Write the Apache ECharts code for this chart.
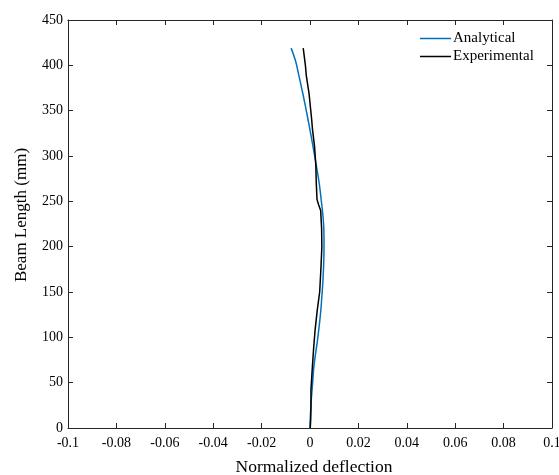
<!DOCTYPE html>
<html>
<head>
<meta charset="utf-8">
<script src="https://cdn.jsdelivr.net/npm/echarts@6/dist/echarts.min.js"></script>
<style>html,body{margin:0;padding:0;background:#fff;overflow:hidden;}#c{width:559px;height:475px;}</style>
</head>
<body>
<div id="c"></div>
<script>
// Beam length (mm) and normalized deflection values
const analyticalY = [0, 10, 20, 30, 40, 50, 65, 80, 95, 108, 125, 145, 165, 185, 205, 220, 235, 250, 268, 285, 302, 320, 337, 355, 373, 390, 405, 419];
const analyticalX = [0, 0.0001, 0.0003, 0.0005, 0.0008, 0.0011, 0.0015, 0.0022, 0.0030, 0.0036, 0.0043, 0.0049, 0.0054, 0.0057, 0.0058, 0.0057, 0.0053, 0.0047, 0.0039, 0.0029, 0.0018, 0.0006, -0.0006, -0.0019, -0.0033, -0.0047, -0.0060, -0.0078];
const experimentalY = [0, 10, 25, 42, 55, 68, 88, 108, 130, 150, 175, 200, 220, 240, 246, 252, 270, 290, 310, 330, 340, 369, 388, 400, 419];
const experimentalX = [0.0001, 0.0003, 0.0004, 0.0004, 0.0007, 0.0010, 0.0015, 0.0021, 0.0030, 0.0040, 0.0045, 0.0049, 0.0048, 0.0044, 0.0036, 0.0029, 0.0026, 0.0024, 0.0019, 0.0010, 0.0007, -0.0004, -0.0015, -0.0019, -0.0028];
const seriesNames = ['Analytical', 'Experimental'];
const xRange = [-0.1, 0.1, 0.02];
const yRange = [0, 450, 50];

const font = 'Liberation Serif, Times New Roman, serif';
const axisColor = '#262626';
const zip = (xs, ys) => xs.map((x, i) => [x, ys[i]]);
const fmt = v => String(parseFloat(Number(v).toFixed(4)));

const baseX = {
  type: 'value', min: xRange[0], max: xRange[1], interval: xRange[2],
  axisLine: { show: true, onZero: false, lineStyle: { color: axisColor, width: 1 } },
  axisTick: { show: true, inside: true, length: 5, lineStyle: { color: axisColor } },
  splitLine: { show: false }
};
const baseY = {
  type: 'value', min: yRange[0], max: yRange[1], interval: yRange[2],
  axisLine: { show: true, onZero: false, lineStyle: { color: axisColor, width: 1 } },
  axisTick: { show: true, inside: true, length: 5, lineStyle: { color: axisColor } },
  splitLine: { show: false }
};

const chart = echarts.init(document.getElementById('c'), null, { renderer: 'canvas' });
chart.setOption({
  animation: false,
  backgroundColor: '#fff',
  grid: { left: 68, right: 7, top: 20, bottom: 47, containLabel: false, outerBoundsMode: 'none' },
  legend: {
    orient: 'vertical', left: 420, top: 31, itemGap: 3, padding: 0,
    itemWidth: 31, itemHeight: 1.5,
    icon: 'rect',
    textStyle: { fontFamily: font, fontSize: 15, color: '#000', padding: [0, 0, 0, -3] },
    data: seriesNames
  },
  xAxis: [
    Object.assign({}, baseX, {
      position: 'bottom',
      name: 'Normalized deflection', nameLocation: 'middle', nameGap: 30,
      nameTextStyle: { fontFamily: font, fontSize: 17.5, color: '#000', padding: [0, 0, 0, 8] },
      axisLabel: { show: true, margin: 8, fontFamily: font, fontSize: 14, color: '#000', formatter: fmt }
    }),
    Object.assign({}, baseX, { position: 'top', axisLabel: { show: false } })
  ],
  yAxis: [
    Object.assign({}, baseY, {
      position: 'left',
      name: 'Beam Length (mm)', nameLocation: 'middle', nameGap: 38,
      nameTextStyle: { fontFamily: font, fontSize: 17, color: '#000', padding: [0, 0, 0, 18] },
      axisLabel: { show: true, margin: 5, fontFamily: font, fontSize: 14, color: '#000', formatter: fmt }
    }),
    Object.assign({}, baseY, { position: 'right', axisLabel: { show: false } })
  ],
  series: [
    {
      name: seriesNames[0], type: 'line', xAxisIndex: 0, yAxisIndex: 0,
      data: zip(analyticalX, analyticalY), smooth: true, symbol: 'none',
      lineStyle: { color: '#0072BD', width: 1.5 }, itemStyle: { color: '#0072BD' }
    },
    {
      name: seriesNames[1], type: 'line', xAxisIndex: 0, yAxisIndex: 0,
      data: zip(experimentalX, experimentalY), smooth: false, symbol: 'none',
      lineStyle: { color: '#000000', width: 1.5 }, itemStyle: { color: '#000000' }
    }
  ]
});
</script>
</body>
</html>
